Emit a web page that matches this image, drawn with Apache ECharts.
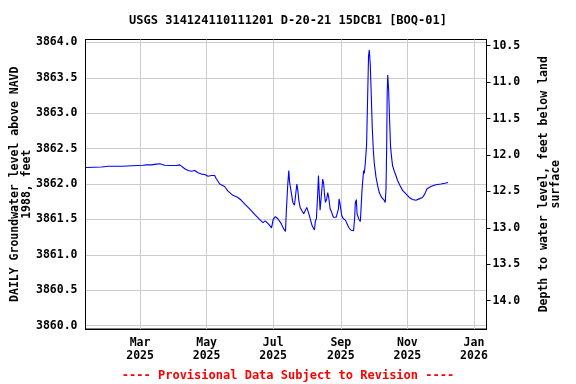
<!DOCTYPE html>
<html>
<head>
<meta charset="utf-8">
<script src="https://cdn.jsdelivr.net/npm/echarts@6/dist/echarts.min.js"></script>
<style>html,body{margin:0;padding:0;background:#fff}#c{width:576px;height:384px}</style>
</head>
<body>
<div id="c"></div>
<script>
// Days since 2025-01-01 (0 = Jan 1, 2025)
const days = [9.5,23.8,29.9,39.0,40.5,42.1,43.6,61.8,65,69.5,71.0,74,77.1,81.7,86.3,92.4,95.4,96.9,100.0,103.0,106.1,109.1,112.1,115.2,118.3,121.3,124.4,127.4,129.0,132.0,136.5,139.6,144.1,148.7,151.8,154.8,159.4,164.0,168.5,171.6,173.7,177.0,179.5,181.0,183.0,185.3,188.4,190.5,192.3,193.0,193.9,194.4,195.3,196.0,196.9,197.8,199.0,200.5,201.5,202.7,203.6,204.5,205.7,207.2,209.0,210.6,211.8,213.3,214.9,216.7,218.8,219.7,220.6,221.8,222.5,223.4,224.0,225.2,226.4,227.3,228.0,228.9,230.1,231.0,231.9,233.2,234.6,236.2,237.4,238.7,239.8,240.8,241.4,242.3,243.8,245.3,247.2,248.7,250.2,252.0,253.8,254.7,255.7,256.3,257.2,257.9,259.3,260.9,261.8,262.4,263.0,263.9,264.5,265.4,266.6,267.5,268.4,269.1,270.0,270.9,271.8,272.8,273.7,275.2,276.7,278.2,280.4,282.8,283.7,284.4,285.0,285.5,286.0,286.8,287.7,288.6,289.5,290.4,292.0,293.5,295.0,297.2,299.6,302.7,305.7,308.7,311.8,314.8,317.8,320.0,321.8,325.5,330.1,334.7,338.3,341.3];
// Daily groundwater level above NAVD 1988, feet
const levels = [3862.234,3862.24,3862.25,3862.25,3862.26,3862.25,3862.262,3862.265,3862.27,3862.27,3862.286,3862.28,3862.286,3862.265,3862.262,3862.262,3862.27,3862.256,3862.215,3862.19,3862.18,3862.19,3862.16,3862.14,3862.135,3862.11,3862.12,3862.12,3862.07,3862.0,3861.965,3861.90,3861.84,3861.81,3861.77,3861.72,3861.65,3861.57,3861.50,3861.455,3861.48,3861.43,3861.38,3861.50,3861.54,3861.51,3861.44,3861.37,3861.33,3861.60,3861.86,3862.0,3862.19,3862.03,3862.05,3861.86,3861.74,3861.70,3861.72,3862.0,3861.91,3861.77,3861.67,3861.625,3861.58,3861.555,3861.67,3861.60,3861.51,3861.41,3861.35,3861.48,3861.51,3861.86,3862.12,3861.81,3861.63,3861.65,3862.07,3862.0,3861.86,3861.74,3861.79,3861.88,3861.81,3861.65,3861.60,3861.53,3861.555,3861.53,3861.53,3861.65,3861.79,3861.72,3861.555,3861.51,3861.49,3861.44,3861.39,3861.35,3861.33,3861.34,3861.53,3861.74,3861.78,3861.58,3861.51,3861.47,3861.46,3861.91,3862.03,3862.19,3862.15,3862.29,3862.55,3863.18,3863.81,3863.89,3863.68,3863.25,3862.80,3862.47,3862.29,3862.10,3861.98,3861.88,3861.81,3861.77,3861.74,3861.93,3862.5,3863.3,3863.54,3863.33,3862.90,3862.52,3862.38,3862.26,3862.18,3862.12,3862.05,3861.98,3861.91,3861.86,3861.81,3861.78,3861.77,3861.79,3861.81,3861.86,3861.93,3861.965,3861.99,3862.0,3862.01,3862.02];
// X tick positions (days since 2025-01-01) and labels
const xTickDays = [59,120,181,243,304,365];
const xTickLabels = ['Mar\n2025','May\n2025','Jul\n2025','Sep\n2025','Nov\n2025','Jan\n2026'];
const leftTicks = [3860.0,3860.5,3861.0,3861.5,3862.0,3862.5,3863.0,3863.5,3864.0];
const rightTicks = [10.5,11.0,11.5,12.0,12.5,13.0,13.5,14.0];

const FONT = 'DejaVu Sans Mono';
const chart = echarts.init(document.getElementById('c'), null, {renderer:'canvas'});
const lbl = {fontFamily: FONT, fontWeight: 'bold', fontSize: 11.5, color: '#000'};
chart.setOption({
  animation: false,
  backgroundColor: '#fff',
  title: {
    text: 'USGS 314124110111201 D-20-21 15DCB1 [BOQ-01]',
    left: 'center', top: 10,
    textStyle: {fontFamily: FONT, fontWeight: 'bold', fontSize: 12, color: '#000'}
  },
  graphic: [{
    type: 'text', left: 'center', top: 370,
    style: {text: '---- Provisional Data Subject to Revision ----', fill: '#ff0000',
      font: 'bold 12px "DejaVu Sans Mono"'}
  }],
  grid: {left: 85.5, right: 89.5, top: 39.5, bottom: 55, show: true, borderColor: '#000', borderWidth: 1,
    containLabel: false, outerBoundsMode: 'none'},
  xAxis: {
    type: 'value', min: 9, max: 376.5,
    axisLine: {show: true, lineStyle: {color: '#000', width: 1}},
    axisTick: {show: false, customValues: xTickDays},
    axisLabel: Object.assign({}, lbl, {customValues: xTickDays, margin: 8, lineHeight: 13,
      formatter: v => xTickLabels[xTickDays.indexOf(v)]}),
    splitLine: {show: true, lineStyle: {color: '#cccccc', width: 1}}
  },
  yAxis: [{
    type: 'value', min: 3859.953, max: 3864.04,
    position: 'left',
    name: 'DAILY Groundwater level above NAVD\n1988, feet',
    nameLocation: 'middle', nameGap: 52, nameRotate: 90, nameMoveOverlap: false,
    nameTextStyle: {fontFamily: FONT, fontWeight: 'bold', fontSize: 11.5, color: '#000', lineHeight: 12},
    axisLine: {show: true, lineStyle: {color: '#000', width: 1}},
    axisTick: {show: false, customValues: leftTicks},
    axisLabel: Object.assign({}, lbl, {customValues: leftTicks, margin: 8, formatter: v => v.toFixed(1)}),
    splitLine: {show: true, lineStyle: {color: '#cccccc', width: 1}}
  }, {
    type: 'value', min: 10.415, max: 14.388, inverse: true,
    position: 'right',
    name: 'Depth to water level, feet below land\nsurface',
    nameLocation: 'middle', nameGap: 52, nameRotate: 90, nameMoveOverlap: false,
    nameTextStyle: {fontFamily: FONT, fontWeight: 'bold', fontSize: 11.5, color: '#000', lineHeight: 12},
    axisLine: {show: true, lineStyle: {color: '#000', width: 1}},
    axisTick: {show: true, inside: false, length: 4, customValues: rightTicks, lineStyle: {color: '#000'}},
    axisLabel: Object.assign({}, lbl, {customValues: rightTicks, margin: 6, formatter: v => v.toFixed(1)}),
    splitLine: {show: false}
  }],
  series: [{
    type: 'line', yAxisIndex: 0, showSymbol: false, symbol: 'none',
    lineStyle: {color: '#0000ff', width: 1.1},
    data: days.map((d, i) => [d, levels[i]])
  }]
});
</script>
</body>
</html>
